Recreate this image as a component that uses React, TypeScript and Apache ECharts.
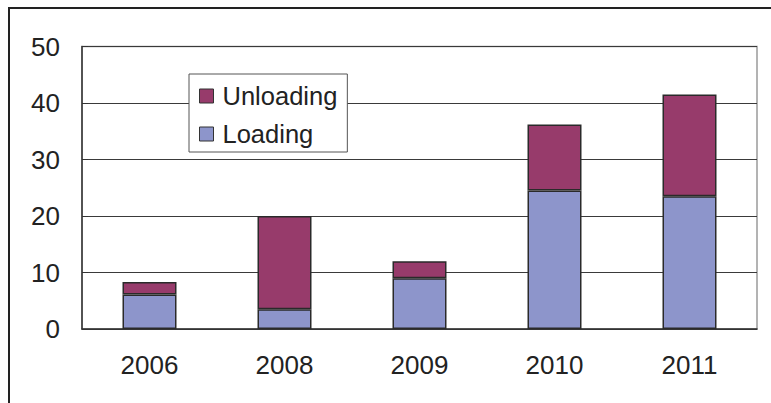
import React, { useEffect, useRef } from "react";
import * as echarts from "echarts";

const years = ["2006", "2008", "2009", "2010", "2011"];
const loading = [6.1, 3.5, 9.0, 24.5, 23.5];
const unloading = [2.2, 16.5, 3.0, 11.7, 18.0];
const yTicks = { min: 0, max: 50, interval: 10 };

export default function App() {
  const ref = useRef<HTMLDivElement>(null);
  useEffect(() => {
    if (!ref.current) return;
    const chart = echarts.init(ref.current, null, { renderer: "svg" });
    const font = "'Liberation Sans', Arial, sans-serif";
    chart.setOption({
      animation: false,
      backgroundColor: "#ffffff",
      grid: {
        left: 82,
        top: 46.5,
        right: 14,
        bottom: 74,
        show: true,
        borderColor: "#9a9a9a",
        borderWidth: 1.5,
        containLabel: false,
      },
      legend: {
        orient: "vertical",
        left: 189,
        top: 74,
        data: ["Unloading", "Loading"],
        backgroundColor: "#ffffff",
        borderColor: "#555555",
        borderWidth: 1,
        padding: [9, 10, 5, 10],
        itemGap: 12,
        itemWidth: 14,
        itemHeight: 14,
        icon: "rect",
        itemStyle: { borderColor: "#333333", borderWidth: 1 },
        textStyle: {
          fontFamily: font,
          fontSize: 25.5,
          color: "#222222",
          lineHeight: 26,
          padding: [0, 0, 0, 4],
        },
      },
      xAxis: {
        type: "category",
        data: years,
        axisLine: { lineStyle: { color: "#333333", width: 1.5 } },
        axisTick: { inside: true, length: 7, lineStyle: { color: "#333333" } },
        axisLabel: { fontFamily: font, fontSize: 26, color: "#222222", margin: 23 },
      },
      yAxis: {
        type: "value",
        min: yTicks.min,
        max: yTicks.max,
        interval: yTicks.interval,
        axisLine: { show: true, lineStyle: { color: "#333333", width: 1.5 } },
        axisTick: { show: true, inside: true, length: 6, lineStyle: { color: "#333333" } },
        axisLabel: { fontFamily: font, fontSize: 26, color: "#222222", margin: 22 },
        splitLine: { lineStyle: { color: "#3a3a3a", width: 1 } },
      },
      series: [
        {
          name: "Loading",
          type: "bar",
          stack: "total",
          data: loading,
          barWidth: 54,
          itemStyle: { color: "#8d95cb", borderColor: "#2a2a2a", borderWidth: 1.5 },
        },
        {
          name: "Unloading",
          type: "bar",
          stack: "total",
          data: unloading,
          barWidth: 54,
          itemStyle: { color: "#973b6b", borderColor: "#2a2a2a", borderWidth: 1.5 },
        },
      ],
      graphic: [
        { type: "line", shape: { x1: 8, y1: 8, x2: 771, y2: 8 }, style: { stroke: "#222222", lineWidth: 2 } },
        { type: "line", shape: { x1: 9, y1: 7, x2: 9, y2: 403 }, style: { stroke: "#222222", lineWidth: 2 } },
      ],
    });
    return () => chart.dispose();
  }, []);
  return (
    <div
      ref={ref}
      style={{ position: "fixed", left: 0, top: 0, width: 771, height: 403 }}
    />
  );
}
